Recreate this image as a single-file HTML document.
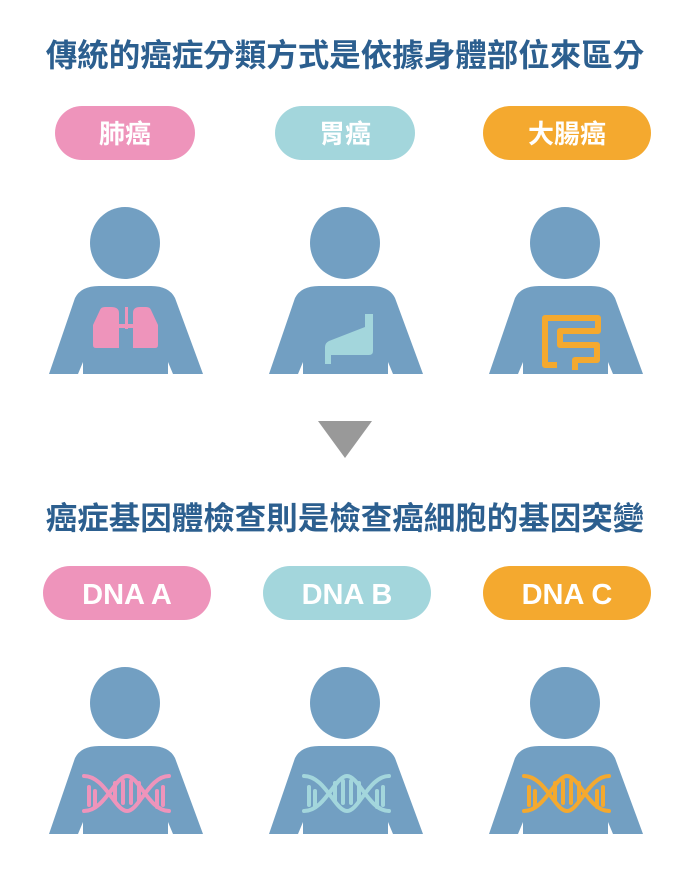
<!DOCTYPE html>
<html><head><meta charset="utf-8"><style>
body{margin:0;background:#fff;}
svg{display:block}
text{font-family:"Liberation Sans","Noto Sans CJK TC",sans-serif;font-weight:bold}
</style></head><body>
<svg width="690" height="880" viewBox="0 0 690 880" xmlns="http://www.w3.org/2000/svg">
<defs>
<g id="person">
<ellipse cx="0" cy="-43" rx="35" ry="36" fill="#729fc2"/>
<path d="M-76,88 L-50,12 Q-44,0 -26,0 L26,0 Q44,0 50,12 L78,88 L48,88 L43,76 L43,88 L-42,88 L-42,76 L-47,88 Z" fill="#729fc2"/>
</g>
<g id="dna" fill="none" stroke-width="4" stroke-linecap="round">
<path d="M-41,-17 C-20,-17 -10,18 2,18 C14,18 24,-17 44,-17"/>
<path d="M-41,18 C-20,18 -10,-17 2,-17 C14,-17 24,18 44,18"/>
<path d="M-36,-6 V12 M-30,-2 V14 M-10,-10 V8 M-2,-12 V10 M6,-12 V10 M14,-10 V8 M32,-2 V14 M38,-6 V12"/>
</g>
</defs>
<text x="345" y="66" font-size="31.5" fill="#2c5f8f" text-anchor="middle">傳統的癌症分類方式是依據身體部位來區分</text>
<rect x="55" y="106" width="140" height="54" rx="27" fill="#ee94bb"/>
<rect x="275" y="106" width="140" height="54" rx="27" fill="#a3d6dc"/>
<rect x="483" y="106" width="168" height="54" rx="27" fill="#f4a92f"/>
<text x="125" y="143" font-size="26" fill="#fff" text-anchor="middle">肺癌</text>
<text x="345" y="143" font-size="26" fill="#fff" text-anchor="middle">胃癌</text>
<text x="567" y="143" font-size="26" fill="#fff" text-anchor="middle">大腸癌</text>
<use href="#person" x="125" y="286"/>
<use href="#person" x="345" y="286"/>
<use href="#person" x="565" y="286"/>
<g fill="#ee94bb">
<path d="M93,325 L100,310 Q101,307 105,307 L111,307 Q119,307 119,313 L119,348 L96,348 Q93,348 93,345 Z"/>
<path d="M158,325 L151,310 Q150,307 146,307 L140,307 Q133,307 133,313 L133,348 L155,348 Q158,348 158,345 Z"/>
<rect x="125" y="307" width="3" height="22"/>
<rect x="119" y="324" width="14" height="4"/>
</g>
<path d="M365,314 L373,314 L373,351 Q373,355 369,355 L331,355 L331,364 L325,364 L325,347 Q325,343 329,341 L365,327 Z" fill="#a3d6dc"/>
<path d="M557,365 L545,365 L545,318 L598,318 L598,331 L560,331 L560,345 L597,345 L597,360 L575,360 L575,370" fill="none" stroke="#f4a92f" stroke-width="6" stroke-linejoin="round"/>
<polygon points="318,421 372,421 345,458" fill="#999"/>
<text x="345" y="529" font-size="31.5" fill="#2c5f8f" text-anchor="middle">癌症基因體檢查則是檢查癌細胞的基因突變</text>
<rect x="43" y="566" width="168" height="54" rx="27" fill="#ee94bb"/>
<rect x="263" y="566" width="168" height="54" rx="27" fill="#a3d6dc"/>
<rect x="483" y="566" width="168" height="54" rx="27" fill="#f4a92f"/>
<text x="127" y="604" font-size="29" fill="#fff" text-anchor="middle">DNA A</text>
<text x="347" y="604" font-size="29" fill="#fff" text-anchor="middle">DNA B</text>
<text x="567" y="604" font-size="29" fill="#fff" text-anchor="middle">DNA C</text>
<use href="#person" x="125" y="746"/>
<use href="#person" x="345" y="746"/>
<use href="#person" x="565" y="746"/>
<use href="#dna" x="125" y="793" stroke="#ee94bb"/>
<use href="#dna" x="345" y="793" stroke="#a3d6dc"/>
<use href="#dna" x="565" y="793" stroke="#f4a92f"/>
</svg>
</body></html>
